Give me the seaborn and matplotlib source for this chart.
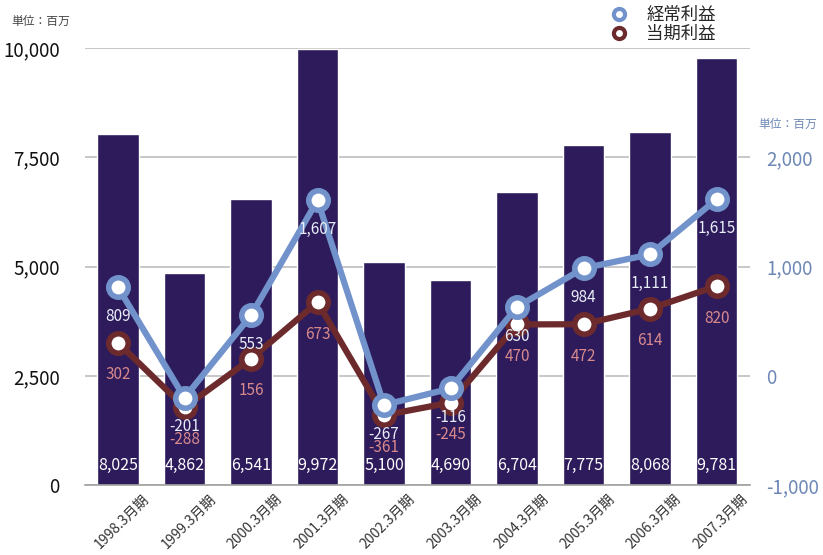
import numpy as np
import pandas as pd
import matplotlib
matplotlib.use("Agg")
import matplotlib.pyplot as plt
import matplotlib.transforms as mtransforms
import seaborn as sns
from matplotlib.lines import Line2D

categories = ["1998.3月期", "1999.3月期", "2000.3月期", "2001.3月期", "2002.3月期",
              "2003.3月期", "2004.3月期", "2005.3月期", "2006.3月期", "2007.3月期"]
sales = [8025, 4862, 6541, 9972, 5100, 4690, 6704, 7775, 8068, 9781]
ordinary_profit = [809, -201, 553, 1607, -267, -116, 630, 984, 1111, 1615]
net_profit = [302, -288, 156, 673, -361, -245, 470, 472, 614, 820]
left_ticks = [0, 2500, 5000, 7500, 10000]
right_ticks = [-1000, 0, 1000, 2000]

sns.set_theme(style="white")
FAM = ["Noto Sans CJK JP", "DejaVu Sans"]
plt.rcParams["font.family"] = FAM

BAR = "#2e1b5c"
BLUE = "#7192cb"
RED = "#6d2a2c"
BLUE_TXT = "#e8eef8"
RED_TXT = "#d8898c"
AXBLUE = "#6d87b6"

fig = plt.figure(figsize=(8.23, 5.55), dpi=100)
ax = fig.add_axes([0.103, 0.126, 0.808, 0.7875])

df = pd.DataFrame({"cat": categories, "sales": sales})
sns.barplot(data=df, x="cat", y="sales", color=BAR, saturation=1, width=0.62, ax=ax, zorder=2)
ax.set_ylim(0, 10000)
ax.set_xlim(-0.5, 9.5)
ax.set_yticks(left_ticks)
ax.set_yticklabels([f"{v:,}" for v in left_ticks], fontsize=13.5, color="#111111")
ax.grid(axis="y", color="#bdbdbd", linewidth=1.2, zorder=0)
ax.set_axisbelow(True)
for s in ["top", "left", "right"]:
    ax.spines[s].set_visible(False)
ax.spines["bottom"].set_color("#a0a0a0")
ax.spines["bottom"].set_linewidth(1.2)
ax.tick_params(axis="y", length=0, pad=18)
ax.tick_params(axis="x", length=0, pad=5)
ax.set_xlabel("")
ax.set_ylabel("")
ax.set_xticks(range(len(categories)))
ax.set_xticklabels(categories, rotation=45, ha="right", rotation_mode="anchor",
                   fontsize=10, color="#333333", style="italic")
shift = mtransforms.ScaledTranslation(24 / 100, 0, fig.dpi_scale_trans)
for lab in ax.get_xticklabels():
    lab.set_transform(lab.get_transform() + shift)

for i, v in enumerate(sales):
    ax.text(i, 460, f"{v:,}", ha="center", va="center", color="white", fontsize=11.5, zorder=3)

ax2 = ax.twinx()
ax2.set_position(ax.get_position())
x = np.arange(len(categories))
sns.lineplot(x=x, y=net_profit, ax=ax2, color=RED, linewidth=4.5, marker="o",
             markersize=14, markeredgewidth=4, markerfacecolor="white",
             markeredgecolor=RED, zorder=4)
sns.lineplot(x=x, y=ordinary_profit, ax=ax2, color=BLUE, linewidth=4.5, marker="o",
             markersize=14, markeredgewidth=4, markerfacecolor="white",
             markeredgecolor=BLUE, zorder=5)
ax2.set_ylim(-1000, 3000)
ax2.set_xlim(-0.5, 9.5)
ax2.set_yticks(right_ticks)
ax2.set_yticklabels([f"{v:,}" for v in right_ticks], fontsize=13.5, color=AXBLUE)
ax2.tick_params(axis="y", length=0, pad=12)
for s in ax2.spines.values():
    s.set_visible(False)
ax2.grid(False)
ax2.set_ylabel("")

for i, v in enumerate(net_profit):
    ax2.annotate(f"{v:,}", (i, v), xytext=(0, -23), textcoords="offset points",
                 ha="center", va="center", color=RED_TXT, fontsize=11, zorder=6)
for i, v in enumerate(ordinary_profit):
    ax2.annotate(f"{v:,}", (i, v), xytext=(0, -21), textcoords="offset points",
                 ha="center", va="center", color=BLUE_TXT, fontsize=11, zorder=7)

fig.text(0.014, 0.962, "単位：百万", fontsize=8.5, color="#444444", va="center")
fig.text(0.921, 0.775, "単位：百万", fontsize=8.5, color=AXBLUE, va="center")

handles = [Line2D([], [], linestyle="none", marker="o", markersize=8, markeredgewidth=3,
                  markerfacecolor="white", markeredgecolor=BLUE),
           Line2D([], [], linestyle="none", marker="o", markersize=8, markeredgewidth=3,
                  markerfacecolor="white", markeredgecolor=RED)]
fig.legend(handles, ["経常利益", "当期利益"], loc="upper left",
           bbox_to_anchor=(0.72, 1.005), frameon=False, fontsize=12.5,
           handletextpad=0.6, labelspacing=0.05, borderpad=0)

fig.savefig("out.png", dpi=100)
